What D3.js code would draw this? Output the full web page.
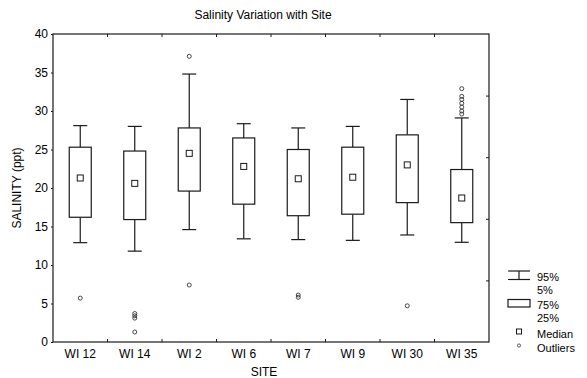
<!DOCTYPE html>
<html>
<head>
<meta charset="utf-8">
<script src="https://cdn.jsdelivr.net/npm/d3@7"></script>
<style>
body{margin:0;background:#fff;}
svg text{font-family:"Liberation Sans",Arial,sans-serif;fill:#000;}
</style>
</head>
<body>
<svg id="c" width="587" height="378"></svg>
<script>
const sites = ["WI 12","WI 14","WI 2","WI 6","WI 7","WI 9","WI 30","WI 35"];
const p05 = [12.9, 11.8, 14.6, 13.4, 13.3, 13.2, 13.9, 12.95];
const p25 = [16.2, 15.9, 19.6, 17.9, 16.4, 16.6, 18.1, 15.5];
const medians = [21.3, 20.6, 24.5, 22.8, 21.2, 21.4, 23.0, 18.7];
const p75 = [25.3, 24.8, 27.8, 26.5, 25.0, 25.3, 26.9, 22.4];
const p95 = [28.1, 28.0, 34.8, 28.35, 27.8, 28.0, 31.5, 29.1];
const outliers = [
  [5.7],
  [3.7, 3.4, 3.1, 1.3],
  [37.1, 7.4],
  [],
  [6.1, 5.8],
  [],
  [4.7],
  [32.9, 31.9, 31.5, 31.0, 30.5, 30.0, 29.6]
];
const yTicks = [0,5,10,15,20,25,30,35,40];
const rightTicks = [8,16,24,32];
const legendLabels = ["95%","5%","75%","25%","Median","Outliers"];

const svg = d3.select("#c");
const m = {l:53, r:489, t:34, b:342};
const x = d3.scaleBand().domain(sites).range([m.l, m.r]);
const y = d3.scaleLinear().domain([0,40]).range([m.b, m.t]);
const ink = "#1a1a1a";
const fs = "12px";

// frame
svg.append("rect").attr("x",m.l).attr("y",m.t).attr("width",m.r-m.l).attr("height",m.b-m.t)
  .attr("fill","none").attr("stroke",ink).attr("stroke-width",1.2);

// left axis
const ya = svg.append("g").attr("transform",`translate(${m.l},0)`)
  .call(d3.axisLeft(y).tickValues(yTicks).tickSize(2).tickPadding(3));
ya.select(".domain").remove();
ya.selectAll("line").attr("stroke",ink);
ya.selectAll("text").style("font-size",fs).attr("font-family","Liberation Sans, Arial, sans-serif");

// right axis inner ticks
const ra = svg.append("g").attr("transform",`translate(${m.r},0)`)
  .call(d3.axisRight(y).tickValues(rightTicks).tickSize(-3).tickFormat(""));
ra.select(".domain").remove();
ra.selectAll("line").attr("stroke",ink);

// bottom/top boundary ticks inside
const bounds = sites.slice(1).map(s => x(s));
svg.append("g").selectAll("line").data(bounds).join("line")
  .attr("x1",d=>d).attr("x2",d=>d).attr("y1",m.b).attr("y2",m.b-3).attr("stroke",ink);
svg.append("g").selectAll("line").data(bounds).join("line")
  .attr("x1",d=>d).attr("x2",d=>d).attr("y1",m.t).attr("y2",m.t+3).attr("stroke",ink);
const xa = svg.append("g").attr("transform",`translate(0,${m.b})`)
  .call(d3.axisBottom(x).tickSize(0).tickPadding(7));
xa.select(".domain").remove();
xa.selectAll("text").style("font-size",fs).attr("font-family","Liberation Sans, Arial, sans-serif");

// titles
svg.append("text").attr("x",263).attr("y",19).attr("text-anchor","middle").style("font-size",fs)
  .text("Salinity Variation with Site");
svg.append("text").attr("x",264).attr("y",376).attr("text-anchor","middle").style("font-size",fs)
  .text("SITE");
svg.append("text").attr("transform","translate(21,188) rotate(-90)").attr("text-anchor","middle").style("font-size",fs)
  .text("SALINITY (ppt)");

// boxes
const data = sites.map((s,i)=>({s, lo:p05[i], q1:p25[i], med:medians[i], q3:p75[i], hi:p95[i], out:outliers[i]}));
const bw = 22, cw = 14, ms = 6;
const g = svg.append("g").selectAll("g").data(data).join("g")
  .attr("transform", d=>`translate(${x(d.s)+x.bandwidth()/2},0)`);
g.append("line").attr("x1",0).attr("x2",0).attr("y1",d=>y(d.hi)).attr("y2",d=>y(d.q3)).attr("stroke",ink).attr("stroke-width",1.2);
g.append("line").attr("x1",0).attr("x2",0).attr("y1",d=>y(d.q1)).attr("y2",d=>y(d.lo)).attr("stroke",ink).attr("stroke-width",1.2);
g.append("line").attr("x1",-cw/2).attr("x2",cw/2).attr("y1",d=>y(d.hi)).attr("y2",d=>y(d.hi)).attr("stroke",ink).attr("stroke-width",1.2);
g.append("line").attr("x1",-cw/2).attr("x2",cw/2).attr("y1",d=>y(d.lo)).attr("y2",d=>y(d.lo)).attr("stroke",ink).attr("stroke-width",1.2);
g.append("rect").attr("x",-bw/2).attr("width",bw).attr("y",d=>y(d.q3)).attr("height",d=>y(d.q1)-y(d.q3))
  .attr("fill","#fff").attr("stroke",ink).attr("stroke-width",1.2);
g.append("rect").attr("x",-ms/2).attr("width",ms).attr("y",d=>y(d.med)-ms/2).attr("height",ms)
  .attr("fill","#fff").attr("stroke",ink).attr("stroke-width",1);
g.selectAll("circle").data(d=>d.out).join("circle").attr("cx",0).attr("cy",v=>y(v)).attr("r",2)
  .attr("fill","none").attr("stroke","#333").attr("stroke-width",0.9);

// legend
const lg = svg.append("g");
const lx = 519;
lg.append("line").attr("x1",lx-11).attr("x2",lx+11).attr("y1",271).attr("y2",271).attr("stroke",ink).attr("stroke-width",1.2);
lg.append("line").attr("x1",lx-11).attr("x2",lx+11).attr("y1",279.5).attr("y2",279.5).attr("stroke",ink).attr("stroke-width",1.2);
lg.append("line").attr("x1",lx).attr("x2",lx).attr("y1",271).attr("y2",279.5).attr("stroke",ink).attr("stroke-width",1.2);
lg.append("rect").attr("x",lx-11).attr("y",299.5).attr("width",22).attr("height",7.5).attr("fill","#fff").attr("stroke",ink).attr("stroke-width",1.2);
lg.append("rect").attr("x",lx-2.5).attr("y",329).attr("width",5).attr("height",5).attr("fill","#fff").attr("stroke",ink).attr("stroke-width",1);
lg.append("circle").attr("cx",lx).attr("cy",345.5).attr("r",1.6).attr("fill","none").attr("stroke","#333").attr("stroke-width",0.8);
const lys = [281, 293.8, 309, 321.8, 338, 352];
lg.selectAll("text").data(legendLabels).join("text").attr("x",537).attr("y",(d,i)=>lys[i])
  .style("font-size","11px").text(d=>d);
</script>
</body>
</html>
